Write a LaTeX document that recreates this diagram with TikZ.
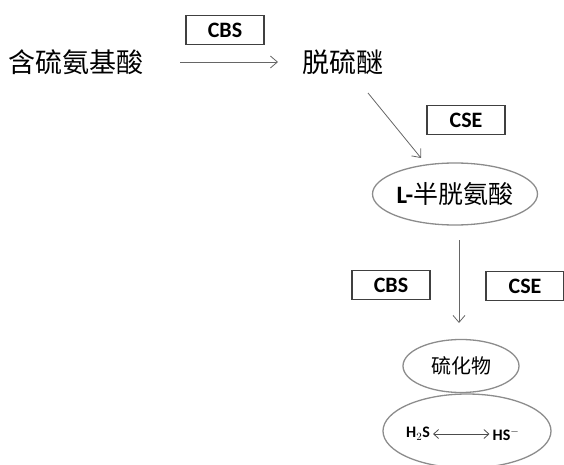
\documentclass[tikz,border=0pt]{standalone}
\usepackage{fontspec}
\setmainfont{Carlito}
\newfontfamily\cjk{Noto Sans CJK SC}
\usetikzlibrary{shapes.geometric,arrows.meta}
\begin{document}
\begin{tikzpicture}[x=1pt,y=-1pt,
  enz/.style={draw=black!75,line width=1.8pt,minimum width=78pt,minimum height=29pt,inner sep=0pt,font=\fontsize{22}{22}\selectfont\bfseries},
  lbl/.style={inner sep=0pt,font=\cjk\fontsize{27}{27}\selectfont},
  ell/.style={ellipse,draw=black!45,line width=1.3pt,inner sep=0pt},
  conn/.style={draw=black!60,line width=0.8pt,-{Straight Barb[length=7pt,width=12pt]}}]
\useasboundingbox (0,0) rectangle (564,465);
\node[lbl] (a) at (76,62) {含硫氨基酸};
\node[lbl] (b) at (343,62) {脱硫醚};
\node[enz] (e1) at (225,30) {CBS};
\coordinate (a1) at (180,62);
\coordinate (a2) at (278,62);
\draw[conn] (a1) -- (a2);
\coordinate (d1) at (368,93);
\coordinate (d2) at (421,158);
\draw[conn] (d1) -- (d2);
\node[enz] (e2) at (466,120) {CSE};
\node[ell,minimum width=160pt,minimum height=62pt,font=\fontsize{25}{25}\selectfont\bfseries] (c) at (455,194) {L-{\cjk\mdseries 半胱氨酸}};
\coordinate (v1) at (459,240);
\coordinate (v2) at (459,323);
\draw[conn] (v1) -- (v2);
\node[enz] (e3) at (391,285) {CBS};
\node[enz] (e4) at (525,286) {CSE};
\node[ell,minimum width=116pt,minimum height=53pt,font=\cjk\fontsize{20}{20}\selectfont] (s) at (461,366) {硫化物};
\node[ell,minimum width=168pt,minimum height=74pt] (h) at (467,431) {};
\node[inner sep=0pt,font=\fontsize{16}{16}\selectfont\bfseries] (h2s) at (418,434) {H$_2$S};
\node[inner sep=0pt,font=\fontsize{16}{16}\selectfont\bfseries] (hs) at (506,434) {HS$^{-}$};
\draw[black!70,line width=0.8pt,{Straight Barb[length=5pt,width=9pt]}-{Straight Barb[length=5pt,width=9pt]}] (h2s.east) ++(3,0) -- ([xshift=-3pt]hs.west);
\end{tikzpicture}
\end{document}
